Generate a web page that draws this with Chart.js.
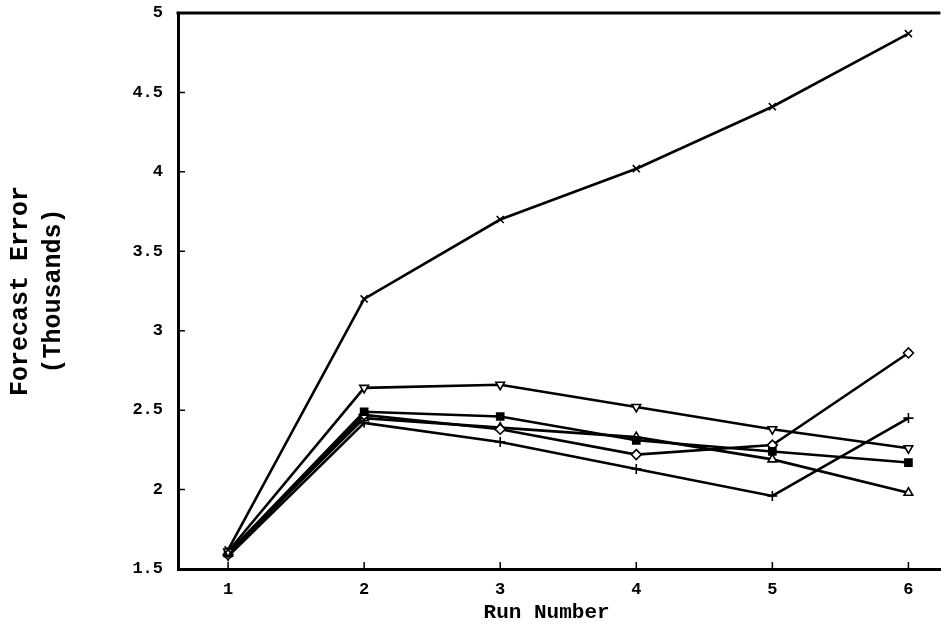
<!DOCTYPE html>
<html>
<head>
<meta charset="utf-8">
<script src="https://cdn.jsdelivr.net/npm/chart.js@4/dist/chart.umd.min.js"></script>
<style>
  body { margin: 0; background: #fff; }
  #wrap { width: 947px; height: 638px; }
</style>
</head>
<body>
<div id="wrap"><canvas id="errChart"></canvas></div>
<script>
// run numbers on the x axis
const runs = [1, 2, 3, 4, 5, 6];

// forecast error per run (thousands), one array per marker type
const errCross = [1.62, 3.20, 3.70, 4.02, 4.41, 4.87];
const errDownTri = [1.61, 2.64, 2.66, 2.52, 2.38, 2.26];
const errSquare = [1.60, 2.49, 2.46, 2.31, 2.24, 2.17];
const errDiamond = [1.59, 2.47, 2.38, 2.22, 2.28, 2.86];
const errTriangle = [1.60, 2.45, 2.39, 2.33, 2.19, 1.98];
const errPlus = [1.58, 2.42, 2.30, 2.13, 1.96, 2.45];

const yTicks = [1.5, 2, 2.5, 3, 3.5, 4, 4.5, 5];

const mono = "'Liberation Mono', 'Courier New', monospace";

function toPoints(values) {
  return runs.map((r, i) => ({x: r, y: values[i]}));
}

function series(values, style, fill, rotation) {
  return {
    data: toPoints(values),
    borderColor: '#000',
    borderWidth: 2.6,
    pointStyle: style,
    pointRotation: rotation || 0,
    pointRadius: 5,
    pointBorderWidth: 1.6,
    pointBorderColor: '#000',
    pointBackgroundColor: fill,
    tension: 0
  };
}

// small tick marks pointing into the plot, plus the top frame line
const frame = {
  id: 'frame',
  afterDraw(chart) {
    const {ctx, chartArea, scales} = chart;
    ctx.save();
    ctx.strokeStyle = '#000';
    ctx.lineWidth = 1.5;
    ctx.beginPath();
    runs.forEach(v => {
      const px = scales.x.getPixelForValue(v);
      ctx.moveTo(px, chartArea.bottom);
      ctx.lineTo(px, chartArea.bottom - 7);
    });
    yTicks.forEach(v => {
      const py = scales.y.getPixelForValue(v);
      ctx.moveTo(chartArea.left, py);
      ctx.lineTo(chartArea.left + 7, py);
    });
    ctx.stroke();
    ctx.lineWidth = 3;
    ctx.beginPath();
    ctx.moveTo(chartArea.left - 1.5, chartArea.top);
    ctx.lineTo(chartArea.right, chartArea.top);
    ctx.stroke();
    ctx.restore();
  }
};

new Chart(document.getElementById('errChart'), {
  type: 'line',
  data: {
    datasets: [
      series(errCross, 'crossRot', '#fff'),
      series(errDownTri, 'triangle', '#fff', 180),
      series(errSquare, 'rect', '#000'),
      series(errDiamond, 'rectRot', '#fff'),
      series(errTriangle, 'triangle', '#fff'),
      series(errPlus, 'cross', '#fff')
    ]
  },
  options: {
    responsive: true,
    maintainAspectRatio: false,
    animation: false,
    layout: {padding: {top: 13, right: 0, left: 0, bottom: 0}},
    plugins: {legend: {display: false}, tooltip: {enabled: false}},
    scales: {
      x: {
        type: 'linear',
        min: 0.632,
        max: 6.235,
        afterBuildTicks: scale => { scale.ticks = runs.map(v => ({value: v})); },
        afterFit: scale => {
          scale.height = 69;
          scale.paddingLeft = 0;
          scale.paddingRight = 0;
        },
        grid: {display: false, drawTicks: false},
        border: {display: true, color: '#000', width: 3},
        ticks: {
          padding: 11,
          color: '#000',
          font: {family: mono, size: 17, weight: 'bold'}
        },
        title: {
          display: true,
          text: 'Run Number  ',
          color: '#000',
          padding: {top: 0, bottom: 13},
          font: {family: mono, size: 21, weight: 'bold'}
        }
      },
      y: {
        min: 1.5,
        max: 5,
        afterBuildTicks: scale => { scale.ticks = yTicks.map(v => ({value: v})); },
        afterFit: scale => {
          scale.width = 178;
          scale.paddingTop = 0;
          scale.paddingBottom = 0;
        },
        grid: {display: false, drawTicks: false},
        border: {display: true, color: '#000', width: 3},
        ticks: {
          padding: 15,
          color: '#000',
          font: {family: mono, size: 17, weight: 'bold'},
          callback: v => String(v)
        },
        title: {
          display: true,
          text: ['Forecast Error', '(Thousands)'],
          color: '#000',
          padding: {top: 4, bottom: 0},
          font: {family: mono, size: 25, weight: 'bold', lineHeight: 1.32}
        }
      }
    }
  },
  plugins: [frame]
});
</script>
</body>
</html>
